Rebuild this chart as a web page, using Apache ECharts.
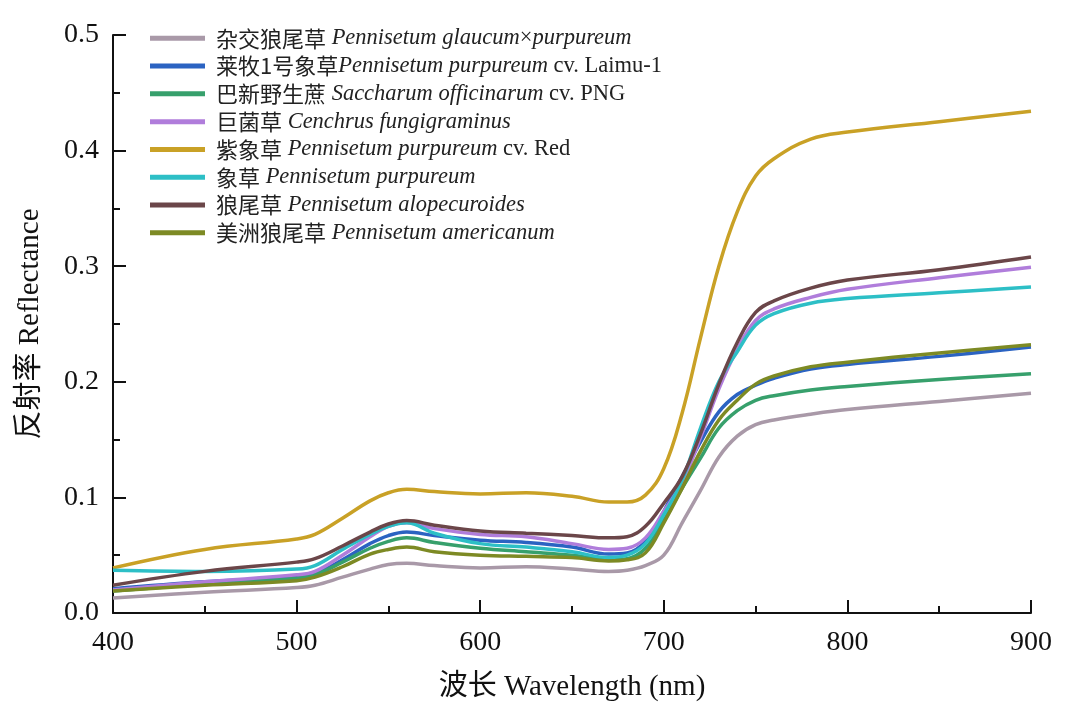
<!DOCTYPE html>
<html>
<head>
<meta charset="utf-8">
<script src="https://cdn.jsdelivr.net/npm/echarts@6/dist/echarts.min.js"></script>
<style>
  html, body { margin: 0; padding: 0; background: #fff; }
  #chart { width: 1069px; height: 713px; }
</style>
</head>
<body>
<div id="chart"></div>
<script>
// 波长 (nm)
var wavelengths = [400, 450, 500, 510, 525, 540, 550, 560, 575, 600, 625, 650, 670, 680, 690, 700, 710, 720, 730, 740, 750, 760, 780, 800, 850, 900];

// 各草种反射率
var hybrid   = [0.013, 0.018, 0.022, 0.024, 0.031, 0.038, 0.042, 0.043, 0.041, 0.039, 0.040, 0.038, 0.036, 0.037, 0.041, 0.050, 0.078, 0.106, 0.135, 0.153, 0.163, 0.167, 0.172, 0.176, 0.183, 0.190];
var laimu    = [0.021, 0.027, 0.031, 0.034, 0.046, 0.060, 0.067, 0.070, 0.067, 0.063, 0.061, 0.057, 0.051, 0.052, 0.062, 0.088, 0.118, 0.148, 0.174, 0.189, 0.197, 0.203, 0.211, 0.215, 0.222, 0.230];
var png      = [0.019, 0.025, 0.030, 0.033, 0.044, 0.056, 0.062, 0.065, 0.061, 0.056, 0.053, 0.050, 0.046, 0.047, 0.056, 0.080, 0.108, 0.134, 0.160, 0.175, 0.184, 0.188, 0.193, 0.196, 0.202, 0.207];
var juncao   = [0.020, 0.027, 0.033, 0.036, 0.050, 0.066, 0.075, 0.078, 0.073, 0.068, 0.066, 0.060, 0.055, 0.056, 0.065, 0.088, 0.113, 0.152, 0.194, 0.228, 0.253, 0.263, 0.273, 0.280, 0.290, 0.299];
var red      = [0.039, 0.055, 0.064, 0.068, 0.082, 0.097, 0.104, 0.107, 0.105, 0.103, 0.104, 0.101, 0.096, 0.096, 0.102, 0.125, 0.173, 0.238, 0.300, 0.347, 0.378, 0.393, 0.410, 0.416, 0.425, 0.434];
var elephant = [0.037, 0.036, 0.038, 0.041, 0.055, 0.068, 0.075, 0.078, 0.069, 0.060, 0.057, 0.053, 0.048, 0.050, 0.060, 0.085, 0.115, 0.160, 0.200, 0.226, 0.249, 0.259, 0.268, 0.272, 0.277, 0.282];
var foxtail  = [0.024, 0.036, 0.044, 0.047, 0.058, 0.070, 0.077, 0.080, 0.076, 0.071, 0.069, 0.067, 0.065, 0.066, 0.075, 0.095, 0.118, 0.155, 0.198, 0.234, 0.260, 0.270, 0.281, 0.288, 0.297, 0.308];
var american = [0.019, 0.024, 0.028, 0.031, 0.040, 0.051, 0.055, 0.057, 0.053, 0.050, 0.049, 0.048, 0.045, 0.046, 0.052, 0.078, 0.108, 0.140, 0.167, 0.184, 0.198, 0.205, 0.213, 0.217, 0.225, 0.232];

// 图例: 中文名, 拉丁名(斜体), 后缀
var names   = ['杂交狼尾草', '莱牧1号象草', '巴新野生蔗', '巨菌草', '紫象草', '象草', '狼尾草', '美洲狼尾草'];
var latins  = ['Pennisetum glaucum', 'Pennisetum purpureum', 'Saccharum officinarum', 'Cenchrus fungigraminus', 'Pennisetum purpureum', 'Pennisetum purpureum', 'Pennisetum alopecuroides', 'Pennisetum americanum'];
var suffix  = ['×purpureum', ' cv. Laimu-1', ' cv. PNG', '', ' cv. Red', '', '', ''];
var colors  = ['#a999a8', '#2b63c2', '#37a06c', '#b07ddb', '#c9a126', '#2dbfc6', '#6b4649', '#7d8a24'];
var allData = [hybrid, laimu, png, juncao, red, elephant, foxtail, american];

var chart = echarts.init(document.getElementById('chart'));

var series = [];
for (var i = 0; i < names.length; i++) {
	var pts = [];
	for (var j = 0; j < wavelengths.length; j++) {
		pts.push([wavelengths[j], allData[i][j]]);
	}
	series.push({
		name: names[i],
		type: 'line',
		smooth: 0.4,
		showSymbol: false,
		data: pts,
		color: colors[i],
		lineStyle: { width: 3.5, color: colors[i] }
	});
}

var serif = '"Liberation Serif", "Times New Roman", "Noto Sans CJK SC", serif';

var option = {
	animation: false,
	backgroundColor: '#fff',
	grid: { left: 113, right: 38, top: 35, bottom: 100 },
	legend: {
		orient: 'vertical',
		left: 145,
		top: 22,
		icon: 'rect',
		itemWidth: 55,
		itemHeight: 5,
		itemGap: 5.3,
		data: names,
		formatter: function(name) {
			var k = names.indexOf(name);
			var s = '{c|' + name + '}{i|' + (k === 1 ? '' : ' ') + latins[k] + '}';
			if (k === 0) {
				s = '{c|' + name + '}{i| ' + latins[k] + '}{n|×}{i|purpureum}';
			} else if (suffix[k]) {
				s += '{n|' + suffix[k] + '}';
			}
			return s;
		},
		textStyle: {
			lineHeight: 22,
			rich: {
				c: { fontFamily: '"Noto Sans CJK SC", sans-serif', fontSize: 22, color: '#222', lineHeight: 22, padding: [0, 0, 0, 6] },
				i: { fontFamily: serif, fontStyle: 'italic', fontSize: 22.5, color: '#222', lineHeight: 22 },
				n: { fontFamily: serif, fontSize: 22.5, color: '#222', lineHeight: 22 }
			}
		}
	},
	xAxis: {
		type: 'value',
		min: 400,
		max: 900,
		interval: 100,
		name: '波长 Wavelength (nm)',
		nameLocation: 'middle',
		nameGap: 60,
		nameTextStyle: { fontFamily: serif, fontSize: 29, color: '#111' },
		axisLine: { show: true, lineStyle: { color: '#111', width: 2 } },
		axisTick: { show: true, inside: true, length: 13, lineStyle: { color: '#111', width: 2 } },
		minorTick: { show: true, splitNumber: 2, length: 7, lineStyle: { color: '#111', width: 2 } },
		axisLabel: { fontFamily: serif, fontSize: 28, color: '#111', margin: 16 },
		splitLine: { show: false }
	},
	yAxis: {
		type: 'value',
		min: 0,
		max: 0.5,
		interval: 0.1,
		name: '反射率 Reflectance',
		nameLocation: 'middle',
		nameGap: 68,
		nameTextStyle: { fontFamily: serif, fontSize: 29, color: '#111' },
		axisLine: { show: true, lineStyle: { color: '#111', width: 2 } },
		axisTick: { show: true, inside: true, length: 13, lineStyle: { color: '#111', width: 2 } },
		minorTick: { show: true, splitNumber: 2, length: 7, lineStyle: { color: '#111', width: 2 } },
		axisLabel: {
			fontFamily: serif, fontSize: 28, color: '#111', margin: 14,
			formatter: function(v) { return v.toFixed(1); }
		},
		splitLine: { show: false }
	},
	series: series
};

chart.setOption(option);
</script>
</body>
</html>
